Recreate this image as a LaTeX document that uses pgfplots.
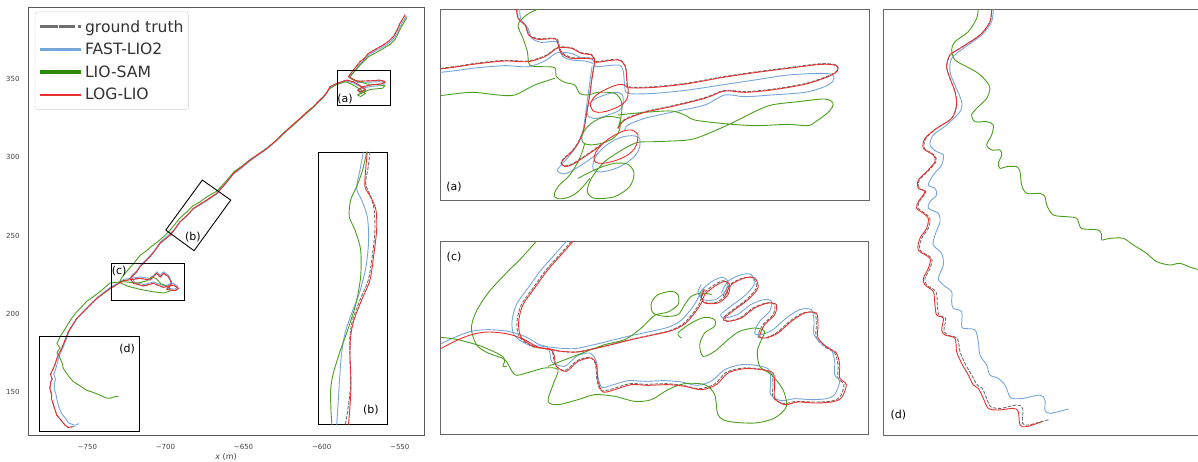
\documentclass[border=0pt]{standalone}
\usepackage{fontspec}
\setmainfont{DejaVu Sans}
\usepackage{pgfplots}
\pgfplotsset{compat=1.18}
\definecolor{cRed}{HTML}{E8312F}
\definecolor{cBlue}{HTML}{76A5DA}
\definecolor{cGreen}{HTML}{4C9E1E}
\definecolor{cLegGreen}{HTML}{2E8B00}
\definecolor{cGray}{HTML}{6E6E6E}
\pgfplotsset{
  traj/.style={line width=0.9pt, line join=round, line cap=round},
  gt/.style={traj, cGray, dash pattern=on 3pt off 2pt},
  fl/.style={traj, cBlue},
  ls/.style={traj, cGreen},
  lo/.style={traj, cRed},
  boxs/.style={black, line width=0.9pt},
  panel/.style={scale only axis, xtick=\empty, ytick=\empty, y dir=reverse,
    axis line style={draw=black!60, line width=0.9pt}},
}
\begin{document}
\begin{tikzpicture}
\useasboundingbox (0,0) rectangle (1198pt,461pt);
% ---------------- main axis ----------------
\begin{axis}[at={(28pt,26pt)}, anchor=south west, scale only axis,
  width=396pt, height=428pt,
  xmin=-788, xmax=-534.5, ymin=122.3, ymax=396.3,
  axis line style={draw=black!65, line width=0.8pt},
  major tick length=0pt,
  xtick={-750,-700,-650,-600,-550},
  xticklabels={−750,−700,−650,−600,−550},
  ytick={150,200,250,300,350},
  yticklabels={150,200,250,300,350},
  tick label style={font=\fontsize{7}{8}\selectfont, text=black!75},
  xticklabel style={yshift=-5.5pt},
  yticklabel style={xshift=-5pt},
  xlabel={\textit{x} (m)},
  xlabel style={font=\fontsize{8}{9}\selectfont, text=black!75, at={(axis description cs:0.5,-0.0514)}, anchor=center},
  legend image code/.code={\path (-2.5pt,0pt) -- (39pt,0pt); \draw[#1] (0pt,0pt) -- (33pt,0pt);},
  legend style={at={(axis description cs:0.0172,0.9893)}, anchor=north west,
    draw=black!18, rounded corners=3pt, fill=white,
    font=\fontsize{15.6}{18}\selectfont, text=black!80,
    row sep=5.4pt, inner xsep=3pt, inner ysep=6.5pt},
  legend cell align=left,
]
\addlegendimage{line width=3pt, cGray, dash pattern=on 6.5pt off 3pt}
\addlegendentry{ground truth}
\addlegendimage{line width=3pt, cBlue}
\addlegendentry{FAST-LIO2}
\addlegendimage{line width=3.5pt, cLegGreen}
\addlegendentry{LIO-SAM}
\addlegendimage{line width=2pt, cRed}
\addlegendentry{LOG-LIO}
% ground truth
\addplot[gt, forget plot] coordinates {(-546.6,391.2) (-548.5,388) (-549.9,385.8) (-551.5,382) (-554.1,377.3) (-557,374.5) (-560.5,372) (-565,369.5) (-570.1,366.6) (-573,363) (-575.4,361.3) (-579.7,356) (-582.9,351.7) (-577.6,348.8) (-569,349) (-563,349.5) (-559.5,348.6) (-561,347.2) (-568,346.5) (-574,345.2) (-577,343) (-575,341.8) (-572,343.5) (-575.5,346) (-580,348.5) (-584,349.5) (-590.3,347.4) (-594.6,345.3) (-597,341) (-598.9,338.9) (-602,336) (-605.3,332.5) (-609,329.5) (-613.8,325) (-619,320.5) (-624.5,315.4) (-629,311) (-635.1,305.8) (-640,302.5) (-645.8,298.3) (-651,294) (-656.5,289.8) (-661,284) (-667.2,277) (-673.6,272.7) (-678,270) (-682.1,267.4) (-686,263) (-690.7,258.8) (-694,254) (-697,250.3) (-703.5,245) (-707,240) (-709.9,236.4) (-716.3,230) (-719,226) (-722.7,222.6) (-720.5,219.4) (-714.1,217.7) (-707.7,219.4) (-701.3,216.8) (-694.9,218.3) (-691.7,216.2) (-693.8,214.7) (-699.2,215.5) (-696,219.4) (-698.1,223.7) (-701.3,225.8) (-703.4,223.3) (-705.6,225.8) (-707.7,223.7) (-709.9,221.5) (-716.4,222.6) (-726.9,221.1) (-735.5,216) (-744,209.7) (-750.4,203.3) (-756.8,196.9) (-762.2,188.4) (-764.3,183) (-766.4,177.7) (-769.2,172.4) (-770.5,168) (-771.8,164.9) (-773.6,161) (-772.5,158) (-773.4,156.4) (-774,152) (-772.8,148) (-773,145.7) (-771.5,141) (-769.6,135) (-767,132) (-764.3,128.6) (-762,127) (-758,127.8)};
% FAST-LIO2
\addplot[fl, forget plot] coordinates {(-545.8,390.5) (-548,387) (-549.2,384.8) (-551,381) (-553.5,376.5) (-556.5,373.6) (-560,371) (-565,368.6) (-570,365.6) (-573,362.2) (-575,360.4) (-579.2,355.2) (-582.4,351) (-577,348) (-569,348.2) (-563,348.5) (-559,347.8) (-560.5,346.2) (-568,345.5) (-574,344.4) (-576.5,342) (-574.5,341) (-571.5,342.6) (-575,345.2) (-579.5,347.6) (-584,348.8) (-590.5,346.8) (-594.6,344.6) (-597.2,340.5) (-599,338.2) (-602.2,335.4) (-605.5,331.8) (-609.2,328.8) (-614,324.4) (-619.2,319.8) (-624.6,314.8) (-629.2,310.4) (-635.2,305.2) (-640.2,301.8) (-646,297.6) (-651.2,293.3) (-656.6,289.2) (-661.2,283.4) (-667.4,276.4) (-673.8,272) (-678.2,269.3) (-682.5,266.8) (-686.4,262.5) (-691,258.4) (-694.5,253.8) (-697.6,250.6) (-703.2,246) (-706.5,241) (-709.5,237.5) (-715.8,231.2) (-718.4,227.4) (-722,224) (-720,220.2) (-713.8,218.6) (-707.5,220.3) (-701,217.8) (-695,219.4) (-692,217.3) (-694,215.6) (-699,216.4) (-696.2,220.4) (-698.2,224.6) (-701.2,226.8) (-703.2,224.3) (-705.4,226.8) (-707.5,224.6) (-709.6,222.4) (-716,223.5) (-726.5,222) (-735,217) (-743.5,210.5) (-750,204) (-756.2,197.6) (-761.5,189) (-763.5,183.5) (-765.6,178.2) (-768,173) (-769,169) (-770,165.5) (-771.5,161) (-770.3,158) (-771,156) (-771.2,152) (-770,148) (-769.8,146.5) (-768.5,141) (-766.5,136) (-764,133) (-762,130) (-758,128.5) (-755.5,129.5)};
% LIO-SAM
\addplot[ls, forget plot] coordinates {(-545.5,389.5) (-547.5,386) (-549,383.5) (-551,379.5) (-553,375.5) (-556,372.5) (-560,370) (-565,367.2) (-570,364.5) (-573,361.5) (-575,359.5) (-579,355) (-582,351.5) (-580,349.8) (-571,347) (-563,346.5) (-559.5,345.8) (-561,344.3) (-569,343.5) (-574,341.5) (-577,340) (-575,339) (-572,341) (-576,344) (-581,347) (-585,348.5) (-591,346.5) (-595,344) (-597.5,340.5) (-599.5,338) (-602.5,335) (-606,331.5) (-609.5,328.5) (-614,324.5) (-619.5,319.5) (-625,315) (-629.5,310.5) (-635.5,305.5) (-640.5,302) (-646,298.5) (-651,294.5) (-656,291) (-661,285) (-667,278.5) (-674,274.5) (-678,271.5) (-682.5,269) (-686.5,265) (-691,261) (-694.5,256.5) (-697.5,253) (-701.3,249.2) (-705,246) (-709,243) (-712.5,240) (-716.3,237.3) (-720,232.5) (-724,228) (-728,223) (-729.5,220) (-724,217.5) (-716,215.5) (-708,214) (-701,213.2) (-697,214.5) (-697.5,217) (-703,219.2) (-706,222.5) (-709,223.5) (-712,221) (-718,219.5) (-727,220.5) (-735.5,219.6) (-742,214) (-746,211) (-750.4,207.9) (-754,204) (-757,201) (-760,197) (-762,194) (-765,189) (-767.5,185.2) (-769.5,181) (-767.5,178) (-769.5,175) (-768,172.5) (-766,168) (-765.4,164.9) (-762,160) (-759,156.4) (-755,154) (-750.4,150.9) (-746,149.5) (-741.9,147.8) (-738,146) (-735.5,145.8) (-732,147) (-730.2,146.8)};
% LOG-LIO
\addplot[lo, forget plot] coordinates {(-546.6,391.2) (-548.5,388) (-549.9,385.8) (-551.5,382) (-554.1,377.3) (-557,374.5) (-560.5,372) (-565,369.5) (-570.1,366.6) (-573,363) (-575.4,361.3) (-579.7,356) (-582.9,351.7) (-577.6,348.8) (-569,349) (-563,349.5) (-559.5,348.6) (-561,347.2) (-568,346.5) (-574,345.2) (-577,343) (-575,341.8) (-572,343.5) (-575.5,346) (-580,348.5) (-584,349.5) (-590.3,347.4) (-594.6,345.3) (-597,341) (-598.9,338.9) (-602,336) (-605.3,332.5) (-609,329.5) (-613.8,325) (-619,320.5) (-624.5,315.4) (-629,311) (-635.1,305.8) (-640,302.5) (-645.8,298.3) (-651,294) (-656.5,289.8) (-661,284) (-667.2,277) (-673.6,272.7) (-678,270) (-682.1,267.4) (-686,263) (-690.7,258.8) (-694,254) (-697,250.3) (-703.5,245) (-707,240) (-709.9,236.4) (-716.3,230) (-719,226) (-722.7,222.6) (-720.5,219.4) (-714.1,217.7) (-707.7,219.4) (-701.3,216.8) (-694.9,218.3) (-691.7,216.2) (-693.8,214.7) (-699.2,215.5) (-696,219.4) (-698.1,223.7) (-701.3,225.8) (-703.4,223.3) (-705.6,225.8) (-707.7,223.7) (-709.9,221.5) (-716.4,222.6) (-726.9,221.1) (-735.5,216) (-744,209.7) (-750.4,203.3) (-756.8,196.9) (-762.2,188.4) (-764.3,183) (-766.4,177.7) (-769.2,172.4) (-770.5,168) (-771.8,164.9) (-773.6,161) (-772.5,158) (-773.4,156.4) (-774,152) (-772.8,148) (-773,145.7) (-771.5,141) (-769.6,135) (-767,132) (-764.3,128.6) (-762,127) (-760,127.6)};
% zoom boxes
\addplot[boxs, forget plot] coordinates {(-589.9,333.1) (-556.1,333.1) (-556.1,355.5) (-589.9,355.5) (-589.9,333.1)};
\addplot[boxs, forget plot] coordinates {(-699.8,253.5) (-676.4,285.5) (-658.2,272.7) (-681.7,240.3) (-699.8,253.5)};
\addplot[boxs, forget plot] coordinates {(-734.8,208.7) (-687.9,208.7) (-687.9,232.4) (-734.8,232.4) (-734.8,208.7)};
\addplot[boxs, forget plot] coordinates {(-780.7,124.8) (-716.7,124.8) (-716.7,185.2) (-780.7,185.2) (-780.7,124.8)};
\node[font=\fontsize{11}{12}\selectfont] at (axis cs:-585.0,337.4) {(a)};
\node[font=\fontsize{11}{12}\selectfont] at (axis cs:-682.5,249.2) {(b)};
\node[font=\fontsize{11}{12}\selectfont] at (axis cs:-729.7,227.3) {(c)};
\node[font=\fontsize{11}{12}\selectfont] at (axis cs:-724.6,177.5) {(d)};
\end{axis}
% ---------------- inset (b) ----------------
\begin{axis}[panel, at={(318.3pt,36.7pt)}, anchor=south west, width=69pt, height=272.3pt,
  xmin=955, xmax=1162, ymin=456, ymax=1273,
  axis line style={draw=black, line width=0.9pt}, axis background/.style={fill=white}]
\addplot[gt, smooth] coordinates {(1110,456) (1105,500) (1097,550) (1110,585) (1122,625) (1125,690) (1118,760) (1105,840) (1080,900) (1058,960) (1050,1010) (1050,1070) (1052,1150) (1045,1220) (1035,1280)};
\addplot[fl, smooth] coordinates {(1090,456) (1080,510) (1070,565) (1085,600) (1102,650) (1106,720) (1098,800) (1078,880) (1055,940) (1035,1000) (1025,1060) (1020,1120) (1015,1200) (1010,1280)};
\addplot[ls, smooth] coordinates {(1100,456) (1088,510) (1070,560) (1052,600) (1048,650) (1065,690) (1082,750) (1082,830) (1068,910) (1045,985) (1020,1055) (1000,1120) (992,1170) (993,1230) (996,1280)};
\addplot[lo, smooth] coordinates {(1102,456) (1098,500) (1095,560) (1112,590) (1128,630) (1130,690) (1122,760) (1110,840) (1085,900) (1062,960) (1052,1010) (1050,1070) (1053,1150) (1050,1220) (1045,1280)};
\node[font=\fontsize{11}{12}\selectfont] at (axis cs:1113,1230) {(b)};
\end{axis}
% ---------------- panel (a) ----------------
\begin{axis}[panel, at={(440.7pt,261pt)}, anchor=south west, width=428.3pt, height=191pt,
  xmin=8, xmax=1293, ymin=12, ymax=585]
% ground truth
\addplot[gt, smooth] coordinates {(8,190) (60,183) (120,174) (200,166) (270,168) (320,153) (345,136) (362,126) (400,128) (430,143) (460,148) (470,163) (475,170) (540,163) (562,183) (567,228) (575,246) (650,245) (750,234) (850,216) (950,201) (1050,188) (1150,176) (1195,180) (1198,196) (1170,213) (1100,236) (1000,253) (920,260) (860,256) (800,278) (700,303) (620,320) (560,343) (540,368)};
\addplot[gt, smooth] coordinates {(237,10) (242,40) (264,62) (274,90) (302,101) (354,100) (364,123) (372,143) (402,158) (442,158) (467,160)};
\addplot[gt, smooth, tension=0.7] coordinates {(470,168) (462,218) (455,268) (445,328) (435,378) (410,428) (375,463) (372,478) (395,480) (440,453) (490,418)};
% FAST-LIO2
\addplot[fl, smooth] coordinates {(8,202) (60,196) (120,188) (200,182) (270,185) (320,168) (345,150) (362,142) (400,145) (430,158) (460,160) (470,175) (475,185) (540,180) (555,195) (560,240) (570,265) (650,265) (750,255) (850,240) (950,225) (1050,210) (1150,205) (1185,210) (1185,228) (1160,245) (1100,262) (1000,270) (920,275) (860,270) (800,300) (700,322) (620,340) (570,360) (560,375)};
\addplot[fl, smooth] coordinates {(245,10) (248,40) (270,70) (282,100) (310,112) (355,110) (365,135) (375,155) (400,165) (440,168) (465,175)};
\addplot[fl, smooth, tension=0.7] coordinates {(555,275) (550,310) (510,330) (465,340) (445,320) (460,290) (500,270) (540,262) (555,275)};
\addplot[fl, smooth, tension=0.7] coordinates {(605,400) (600,440) (555,480) (495,500) (465,490) (480,445) (530,405) (580,392) (605,400)};
\addplot[fl, smooth, tension=0.7] coordinates {(462,185) (455,235) (448,285) (440,345) (430,395) (400,445) (365,485) (360,500) (385,505) (430,480) (480,445)};
% LIO-SAM
\addplot[ls, smooth] coordinates {(305,10) (265,30) (240,60) (255,100) (268,140) (275,180) (310,185) (350,188) (355,215) (380,232) (410,240) (425,265) (450,270) (480,262) (530,265) (550,290) (550,330) (540,370)};
\addplot[ls, smooth] coordinates {(8,272) (100,262) (180,270) (230,270) (290,240) (350,220)};
\addplot[ls, smooth] coordinates {(540,330) (620,322) (700,318) (740,330) (770,345) (850,355) (950,362) (1050,358) (1110,362) (1140,345) (1175,318) (1185,295) (1160,282) (1080,290) (1000,300) (950,320) (880,355) (800,390) (750,405) (650,410) (600,412) (560,430) (500,470) (460,520) (448,560) (470,580) (530,575) (575,545) (588,505) (570,478) (530,475) (480,490) (420,520)};
\addplot[ls, smooth, tension=0.7] coordinates {(548,340) (540,385) (500,412) (445,418) (432,392) (460,355) (505,335) (548,340)};
\addplot[ls, smooth, tension=0.7] coordinates {(440,415) (425,460) (395,510) (360,545) (350,575) (380,580) (420,560) (455,520)};
% LOG-LIO
\addplot[lo, smooth] coordinates {(8,192) (60,185) (120,176) (200,168) (270,170) (320,155) (345,138) (362,128) (400,130) (430,145) (460,150) (470,165) (475,172) (540,165) (562,185) (567,230) (575,248) (650,247) (750,236) (850,218) (950,203) (1050,190) (1150,178) (1195,182) (1198,198) (1170,215) (1100,238) (1000,255) (920,262) (860,258) (800,280) (700,305) (620,322) (560,345) (540,370)};
\addplot[lo, smooth] coordinates {(235,10) (240,40) (262,62) (272,90) (300,103) (352,102) (362,125) (370,145) (400,160) (440,160) (465,162)};
\addplot[lo, smooth, tension=0.7] coordinates {(570,250) (565,285) (530,310) (480,322) (458,305) (470,275) (510,250) (550,238) (570,250)};
\addplot[lo, smooth, tension=0.7] coordinates {(600,390) (590,430) (550,460) (490,475) (468,460) (490,420) (540,385) (580,375) (600,390)};
\addplot[lo, smooth, tension=0.7] coordinates {(470,170) (462,220) (455,270) (445,330) (435,380) (410,430) (375,465) (372,480) (395,482) (440,455) (490,420)};
\node[font=\fontsize{11}{12}\selectfont] at (axis cs:48,546) {(a)};
\end{axis}
% ---------------- panel (c) ----------------
\begin{axis}[panel, at={(440.7pt,27pt)}, anchor=south west, width=427.3pt, height=192.7pt,
  xmin=8, xmax=1290, ymin=10, ymax=588]
% ground truth
\addplot[gt, smooth] coordinates {(400,10) (365,50) (325,95) (285,150) (250,200) (237,250) (243,295) (280,325) (325,332) (365,340) (415,342) (465,332) (515,320) (575,305) (635,292) (695,278) (735,258) (765,225) (785,195) (795,168) (825,143) (855,128) (870,140) (865,170) (835,193) (800,193) (788,172) (800,150)};
\addplot[gt, smooth] coordinates {(855,175) (875,140) (915,120) (945,120) (955,150) (925,185) (885,215) (855,240) (865,250) (905,240) (945,210) (985,195) (1010,200) (1005,230) (975,260) (960,295) (980,300) (1015,285) (1055,250) (1095,225) (1130,225) (1135,260) (1135,300) (1165,330) (1190,345) (1200,380) (1200,420) (1218,440) (1205,478) (1175,490) (1125,492) (1075,490) (1035,497) (1005,478) (1005,440) (1000,405) (965,393) (915,390) (865,403) (830,438) (785,452) (735,442) (685,437) (625,439) (575,437) (525,452) (490,458) (477,428) (472,378) (457,358) (417,368) (382,397) (352,382) (345,348) (337,333)};
% FAST-LIO2
\addplot[fl, smooth] coordinates {(385,10) (350,50) (310,95) (270,150) (235,200) (222,250) (228,290) (265,318) (315,325) (360,330) (410,332) (460,322) (510,310) (570,295) (630,282) (690,268) (728,248) (758,215) (778,185) (790,158) (818,133) (850,118) (868,128) (862,160) (832,185) (795,185) (780,162) (790,140)};
\addplot[fl, smooth] coordinates {(850,165) (870,130) (910,110) (940,110) (948,140) (918,175) (878,205) (848,230) (858,240) (898,230) (938,200) (978,185) (1000,190) (995,220) (965,250) (950,285) (970,290) (1005,275) (1045,240) (1085,215) (1120,215) (1128,250) (1128,290) (1155,320) (1180,335) (1190,370) (1190,410) (1205,430) (1190,470) (1165,482) (1120,485) (1070,482) (1030,488) (998,470) (998,432) (993,395) (960,383) (910,380) (860,395) (822,428) (778,442) (730,432) (680,428) (620,430) (570,428) (520,442) (492,448) (480,418) (475,370) (455,345) (415,355) (380,385) (342,372) (335,340) (325,325)};
\addplot[fl, smooth] coordinates {(8,318) (50,298) (100,280) (150,275) (210,280) (260,295) (300,318) (325,325)};
% LIO-SAM
\addplot[ls, smooth] coordinates {(295,10) (250,60) (200,110) (150,165) (115,220) (100,270) (115,320) (150,345) (200,365) (230,410) (265,405) (320,390) (360,395) (345,440) (330,490) (360,500) (420,485) (470,470) (530,475) (590,490) (640,485) (690,455) (740,437) (800,440) (830,470) (840,530) (870,550) (950,555) (1010,540) (1045,505) (1035,455) (1000,410) (965,385) (958,340) (970,305) (980,280) (950,270) (905,280) (870,305) (830,340) (795,355) (785,320) (800,285) (830,265) (830,245) (800,238) (760,255) (720,285) (730,300)};
\addplot[ls, smooth] coordinates {(8,298) (60,305) (130,325) (185,350) (200,365) (195,385) (205,385)};
\addplot[ls, smooth] coordinates {(330,385) (420,350) (500,320) (560,305) (610,270) (650,232) (690,222) (720,200) (720,170) (700,160) (660,170) (640,195) (645,225) (680,235) (720,230) (740,200) (760,175) (790,165) (820,170)};
% LOG-LIO
\addplot[lo, smooth] coordinates {(405,10) (370,50) (330,95) (290,150) (255,200) (242,250) (248,295) (285,325) (330,332) (370,340) (420,342) (470,332) (520,320) (580,305) (640,292) (700,278) (740,258) (770,225) (790,195) (800,170) (830,145) (860,130) (875,140) (870,170) (840,195) (800,195) (790,175) (800,155)};
\addplot[lo, smooth] coordinates {(860,175) (880,140) (920,120) (950,120) (960,150) (930,185) (890,215) (860,240) (870,250) (910,240) (950,210) (990,195) (1015,200) (1010,230) (980,260) (965,295) (985,300) (1020,285) (1060,250) (1100,225) (1135,225) (1140,260) (1140,300) (1170,330) (1195,345) (1205,380) (1205,420) (1225,440) (1210,480) (1180,492) (1130,495) (1080,492) (1040,500) (1010,480) (1010,440) (1005,405) (970,395) (920,392) (870,405) (835,440) (790,455) (740,445) (690,440) (630,442) (580,440) (530,455) (495,462) (480,430) (475,380) (460,360) (420,370) (385,400) (355,385) (348,350) (340,335)};
\addplot[lo, smooth] coordinates {(8,332) (50,310) (100,290) (150,282) (210,288) (260,305) (300,328) (340,335)};
\node[font=\fontsize{11}{12}\selectfont] at (axis cs:48,58) {(c)};
\end{axis}
% ---------------- panel (d) ----------------
\begin{axis}[panel, at={(883.3pt,26pt)}, anchor=south west, width=326.7pt, height=426pt,
  xmin=10, xmax=990, ymin=12, ymax=1290]
\addplot[gt, smooth] coordinates {(335,10) (330,50) (300,90) (240,130) (210,150) (200,185) (210,220) (225,260) (230,300) (215,340) (170,370) (138,400) (133,430) (163,450) (168,470) (143,500) (118,525) (118,550) (138,560) (118,590) (115,610) (135,625) (150,640) (145,670) (125,700) (120,735) (155,760) (150,790) (135,820) (140,840) (168,860) (172,900) (177,930) (197,940) (192,975) (202,990) (232,1000) (240,1040) (255,1075) (275,1110) (292,1140) (307,1150) (320,1180) (332,1205) (362,1210) (410,1200) (428,1210) (428,1255) (445,1260) (485,1250) (510,1243)};
\addplot[fl, smooth] coordinates {(340,10) (335,50) (305,90) (250,130) (215,160) (210,200) (225,240) (245,290) (240,320) (200,360) (160,390) (150,420) (170,440) (190,450) (185,480) (160,510) (145,540) (165,550) (170,570) (150,590) (145,610) (175,625) (180,650) (165,690) (160,720) (185,745) (190,780) (175,820) (190,840) (215,860) (215,890) (220,910) (245,920) (245,960) (250,970) (285,975) (295,1010) (300,1050) (320,1080) (330,1110) (355,1120) (375,1140) (385,1165) (395,1180) (430,1180) (480,1170) (495,1185) (495,1215) (510,1225) (565,1212)};
\addplot[ls, smooth] coordinates {(295,10) (290,40) (265,80) (225,110) (215,135) (225,165) (260,185) (295,205) (320,230) (330,250) (320,280) (290,310) (275,330) (285,350) (320,350) (340,360) (335,390) (320,420) (335,435) (360,435) (365,450) (355,475) (360,490) (380,485) (410,485) (420,500) (425,540) (440,565) (480,565) (495,575) (500,600) (520,630) (560,635) (590,640) (600,665) (610,672) (655,675) (665,690) (665,705) (690,700) (730,700) (760,720) (800,745) (830,770) (870,780) (900,775) (940,790) (990,800)};
\addplot[lo, smooth] coordinates {(335,10) (330,50) (300,90) (240,130) (210,150) (200,185) (210,220) (225,260) (230,300) (215,340) (170,370) (135,400) (130,430) (160,450) (165,470) (140,500) (115,525) (115,550) (135,560) (115,590) (110,610) (130,625) (145,640) (140,670) (120,700) (115,735) (150,760) (145,790) (130,820) (135,840) (160,860) (165,900) (170,930) (190,940) (185,975) (195,990) (225,1000) (230,1040) (245,1075) (265,1110) (280,1140) (295,1150) (310,1180) (325,1210) (355,1215) (400,1210) (415,1220) (420,1260) (440,1265) (485,1250)};
\node[font=\fontsize{11}{12}\selectfont] at (axis cs:55,1230) {(d)};
\end{axis}
\end{tikzpicture}
\end{document}
